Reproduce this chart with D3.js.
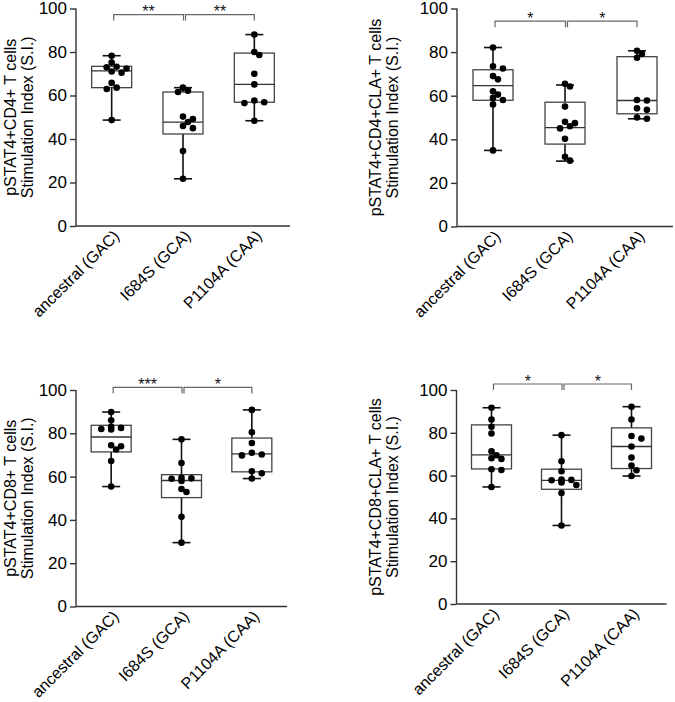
<!DOCTYPE html>
<html>
<head>
<meta charset="utf-8">
<script src="https://cdn.jsdelivr.net/npm/d3@7/dist/d3.min.js"></script>
<style>
  html, body { margin: 0; padding: 0; background: #fff; }
  svg { display: block; font-family: "Liberation Sans", Arial, Helvetica, sans-serif; }
</style>
</head>
<body>
<svg id="chart" width="675" height="702"></svg>
<script>
// ---------------- data ----------------
const categories = ["ancestral (GAC)", "I684S (GCA)", "P1104A (CAA)"];
const yTicks = [0, 20, 40, 60, 80, 100];

const titles = [
  ["pSTAT4+CD4+ T cells", "Stimulation Index (S.I.)"],
  ["pSTAT4+CD4+CLA+ T cells", "Stimulation Index (S.I.)"],
  ["pSTAT4+CD8+ T cells", "Stimulation Index (S.I.)"],
  ["pSTAT4+CD8+CLA+ T cells", "Stimulation Index (S.I.)"]
];

// box summaries: [min, q1, median, q3, max] per category
const cd4Stats = [[48.7, 63.6, 71.3, 73.4, 78.3], [21.7, 42.3, 47.8, 61.6, 63.6], [48.4, 56.9, 65.1, 79.5, 88.0]];
const cd4ClaStats = [[34.9, 57.9, 64.6, 71.9, 82.1], [30.0, 37.8, 45.4, 57.0, 64.9], [49.4, 51.7, 57.8, 77.9, 80.6]];
const cd8Stats = [[55.4, 71.4, 78.3, 83.7, 89.8], [29.5, 50.3, 58.2, 60.9, 77.2], [59.1, 62.2, 70.5, 77.8, 90.8]];
const cd8ClaStats = [[54.7, 63.1, 69.7, 83.7, 91.7], [36.7, 53.6, 57.8, 63.0, 78.9], [59.8, 63.3, 73.6, 82.3, 92.2]];

// individual points per category
const cd4Points = [
  [78.3, 75.2, 73.2, 73.0, 72.4, 71.0, 70.5, 65.8, 63.6, 63.0, 48.7],
  [63.6, 62.2, 61.6, 50.3, 49.2, 47.8, 46.0, 45.0, 34.5, 21.7],
  [88.0, 80.0, 78.6, 70.0, 65.1, 57.7, 56.9, 56.5, 48.4]
];
const cd4ClaPoints = [
  [82.1, 73.5, 72.5, 69.0, 67.5, 62.0, 60.5, 59.0, 58.0, 56.0, 34.9],
  [65.5, 64.2, 55.0, 48.0, 47.4, 46.0, 45.0, 40.2, 32.0, 30.2],
  [80.6, 79.2, 77.4, 58.0, 57.8, 54.2, 53.5, 50.0, 49.4]
];
const cd8Points = [
  [89.8, 86.0, 83.0, 82.5, 82.0, 81.8, 74.5, 74.0, 72.5, 67.2, 55.4],
  [77.2, 66.3, 59.5, 59.2, 59.0, 58.0, 54.3, 52.9, 41.4, 29.5],
  [90.8, 80.5, 75.5, 71.0, 70.2, 69.8, 62.5, 61.5, 59.1]
];
const cd8ClaPoints = [
  [91.7, 86.2, 82.8, 79.7, 71.4, 69.5, 68.1, 67.8, 63.0, 62.6, 54.7],
  [78.9, 66.7, 62.0, 58.2, 58.0, 57.8, 57.5, 56.8, 55.6, 51.9, 36.7],
  [92.2, 86.2, 78.5, 77.3, 73.6, 68.4, 64.7, 62.5, 59.8]
];

// significance: [ancestral vs I684S, I684S vs P1104A]
const sigLabels = [["**", "**"], ["*", "*"], ["***", "*"], ["*", "*"]];
const bracketLevels = [97.2, 94.2, 101.2, 102.8];

// ---------------- layout ----------------
const layouts = [
  { x0: 76,    x1: 290,   yB: 226,   yT: 8.5, t1: -60, t2: -43 },
  { x0: 457,   x1: 673,   yB: 226.5, yT: 8.5, t1: -76, t2: -59 },
  { x0: 76,    x1: 287,   yB: 606.5, yT: 390, t1: -60, t2: -43 },
  { x0: 456.5, x1: 666.5, yB: 604,   yT: 390, t1: -76, t2: -59 }
];
const statsAll = [cd4Stats, cd4ClaStats, cd8Stats, cd8ClaStats];
const pointsAll = [cd4Points, cd4ClaPoints, cd8Points, cd8ClaPoints];

const svg = d3.select("#chart");
const R = 3.3;
const FONT = '"Liberation Sans", Arial, sans-serif';

function dodge(vals, y) {
  const placed = [];
  return vals.map(v => {
    const py = y(v);
    const offs = [0, 1, -1, 2, -2, 3, -3];
    let ox = 0;
    for (const k of offs) {
      const px = k * R * 1.5;
      if (placed.every(p => Math.hypot(p[0] - px, p[1] - py) >= R * 1.7)) { ox = px; break; }
    }
    placed.push([ox, py]);
    return { v, ox };
  });
}

layouts.forEach((L, pi) => {
  const g = svg.append("g");
  const x = d3.scalePoint().domain(categories).range([L.x0, L.x1]).padding(0.5);
  const y = d3.scaleLinear().domain([0, 100]).range([L.yB, L.yT]);

  // y axis
  const yAxis = d3.axisLeft(y).tickValues(yTicks).tickSize(6).tickPadding(3);
  const ya = g.append("g").attr("transform", `translate(${L.x0},0)`).call(yAxis);
  ya.select(".domain").attr("stroke", "#333").attr("stroke-width", 1.4).attr("d", `M0,${L.yT}V${L.yB}`);
  ya.selectAll(".tick line").attr("stroke", "#333").attr("stroke-width", 1.4);
  ya.selectAll(".tick text").attr("font-size", 17).attr("fill", "#000").style("font-family", FONT);

  // x axis
  const xAxis = d3.axisBottom(x).tickSize(0).tickPadding(0);
  const xa = g.append("g").attr("transform", `translate(0,${L.yB})`).call(xAxis);
  xa.select(".domain").attr("stroke", "#333").attr("stroke-width", 1.4).attr("d", `M${L.x0},0H${L.x1}`);
  xa.selectAll(".tick text")
    .attr("font-size", 16).attr("fill", "#000")
    .style("font-family", FONT)
    .attr("text-anchor", "end")
    .attr("dy", null).attr("y", 0)
    .attr("transform", "translate(8,11) rotate(-45)");

  // y title
  const cy = (L.yT + L.yB) / 2;
  const t = g.append("text").attr("font-size", 16).attr("fill", "#000")
    .attr("text-anchor", "middle")
    .attr("transform", `translate(${L.x0},${cy}) rotate(-90)`);
  t.append("tspan").attr("x", 0).attr("y", L.t1).text(titles[pi][0]);
  t.append("tspan").attr("x", 0).attr("y", L.t2).text(titles[pi][1]);

  // boxes
  const bw = 40, cw = 18;
  statsAll[pi].forEach((s, ci) => {
    const cx = x(categories[ci]);
    const [mn, q1, md, q3, mx] = s;
    const bg = g.append("g");
    bg.append("line").attr("x1", cx).attr("x2", cx).attr("y1", y(mx)).attr("y2", y(q3))
      .attr("stroke", "#111").attr("stroke-width", 1.6);
    bg.append("line").attr("x1", cx).attr("x2", cx).attr("y1", y(q1)).attr("y2", y(mn))
      .attr("stroke", "#111").attr("stroke-width", 1.6);
    [mn, mx].forEach(v => bg.append("line").attr("x1", cx - cw / 2).attr("x2", cx + cw / 2)
      .attr("y1", y(v)).attr("y2", y(v)).attr("stroke", "#111").attr("stroke-width", 1.6));
    bg.append("rect").attr("x", cx - bw / 2).attr("width", bw).attr("y", y(q3)).attr("height", y(q1) - y(q3))
      .attr("fill", "none").attr("stroke", "#444").attr("stroke-width", 1.3);
    bg.append("line").attr("x1", cx - bw / 2).attr("x2", cx + bw / 2).attr("y1", y(md)).attr("y2", y(md))
      .attr("stroke", "#333").attr("stroke-width", 1.3);

    // points
    const pts = dodge(pointsAll[pi][ci], y);
    bg.selectAll("circle").data(pts).join("circle")
      .attr("cx", d => cx + d.ox).attr("cy", d => y(d.v)).attr("r", R).attr("fill", "#000");
  });

  // brackets
  const by = y(bracketLevels[pi]);
  const leg = 6;
  const pairs = [[0, 1], [1, 2]];
  pairs.forEach((p, k) => {
    const xa1 = x(categories[p[0]]) + (k === 0 ? 2 : 2.5);
    const xa2 = x(categories[p[1]]) + (k === 0 ? 0.5 : 0);
    g.append("path").attr("d", `M${xa1},${by + leg}V${by}H${xa2}V${by + leg}`)
      .attr("fill", "none").attr("stroke", "#666").attr("stroke-width", 1.2);
    g.append("text").attr("x", (xa1 + xa2) / 2).attr("y", by + 2.5)
      .attr("text-anchor", "middle").attr("font-size", 16).attr("fill", "#111")
      .text(sigLabels[pi][k]);
  });
});
</script>
</body>
</html>
